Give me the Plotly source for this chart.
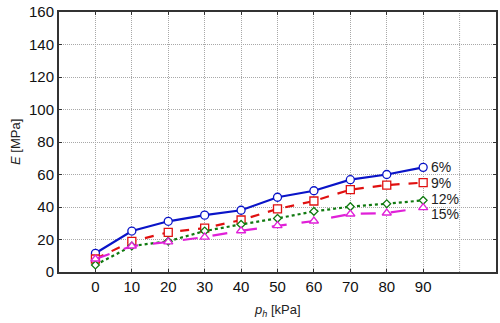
import plotly.graph_objects as go

ph = [0, 10, 20, 30, 40, 50, 60, 70, 80, 90]
E_6 = [11.5, 25.2, 31.2, 35.0, 38.0, 46.0, 50.0, 56.8, 60.0, 64.4]
E_9 = [8.0, 18.9, 24.4, 27.0, 32.0, 38.8, 43.7, 50.7, 53.5, 55.0]
E_12 = [4.3, 16.0, 18.9, 25.2, 29.3, 33.0, 37.3, 40.2, 42.0, 44.1]
E_15 = [8.0, 16.0, 18.5, 21.5, 25.4, 28.5, 31.4, 35.7, 36.3, 39.6]
labels = ["6%", "9%", "12%", "15%"]
x_ticks = [0, 10, 20, 30, 40, 50, 60, 70, 80, 90]
y_ticks = [0, 20, 40, 60, 80, 100, 120, 140, 160]

series = [
    (E_6, "#0a14c8", "solid", "circle", 8),
    (E_9, "#e01010", "dash", "square", 8),
    (E_12, "#107a10", "dot", "diamond", 6),
    (E_15, "#e020d8", "longdash", "triangle-up", 8),
]
label_shift = [0.4, 0.0, 1.0, -3.6]  # vertical offsets of end labels (layout)

fig = go.Figure()
for ys, col, dash, sym, ms in series:
    fig.add_trace(go.Scatter(
        x=ph, y=ys, mode="lines",
        line=dict(color=col, width=2.2, dash=dash),
        hoverinfo="skip"))
    fig.add_trace(go.Scatter(
        x=ph, y=ys, mode="markers",
        marker=dict(symbol=sym, size=ms, color="white",
                    line=dict(color=col, width=1.3)),
        hoverinfo="skip"))

for (ys, *_), txt, dy in zip(series, labels, label_shift):
    fig.add_annotation(x=ph[-1], y=ys[-1] + dy, text=txt, xref="x", yref="y",
                       showarrow=False, xanchor="left", yanchor="middle",
                       xshift=6, font=dict(family="Liberation Sans", size=14, color="#222"))

fig.add_annotation(x=0.5, y=0, xref="paper", yref="paper", yshift=-38,
                   text="<i>p<sub>h</sub></i> [kPa]", showarrow=False,
                   xanchor="center", yanchor="middle",
                   font=dict(family="Liberation Sans", size=13, color="#222"))
fig.add_annotation(x=0, y=0.5, xref="paper", yref="paper", xshift=-44,
                   text="<i>E</i> [MPa]", showarrow=False, textangle=-90,
                   xanchor="center", yanchor="middle",
                   font=dict(family="Liberation Sans", size=13, color="#222"))

fig.update_layout(
    width=500, height=323,
    margin=dict(l=59, r=4, t=12, b=51, autoexpand=False),
    paper_bgcolor="white", plot_bgcolor="white",
    showlegend=False,
    font=dict(family="Liberation Sans", size=15, color="#111"),
)
fig.update_xaxes(
    range=[-10, 110], tickmode="array", tickvals=x_ticks,
    ticktext=[str(v) for v in x_ticks],
    showgrid=True, gridcolor="#a8a8a8", griddash="1px,1px", gridwidth=1,
    showline=True, linecolor="#333", linewidth=2, mirror="ticks",
    ticks="inside", ticklen=3, tickcolor="#333",
    zeroline=False, automargin=False,
)
fig.add_vline(x=100, line=dict(color="#a8a8a8", width=1, dash="1px,1px"), layer="below")
fig.update_yaxes(
    range=[0, 160], tickmode="array", tickvals=y_ticks,
    showgrid=True, gridcolor="#a8a8a8", griddash="1px,1px", gridwidth=1,
    showline=True, linecolor="#333", linewidth=2, mirror="ticks",
    ticks="inside", ticklen=3, tickcolor="#333",
    zeroline=False, automargin=False,
)

fig.write_html("out.html", config={"displayModeBar": False},
               post_script="document.body.style.margin='0';document.body.style.overflow='hidden';")
